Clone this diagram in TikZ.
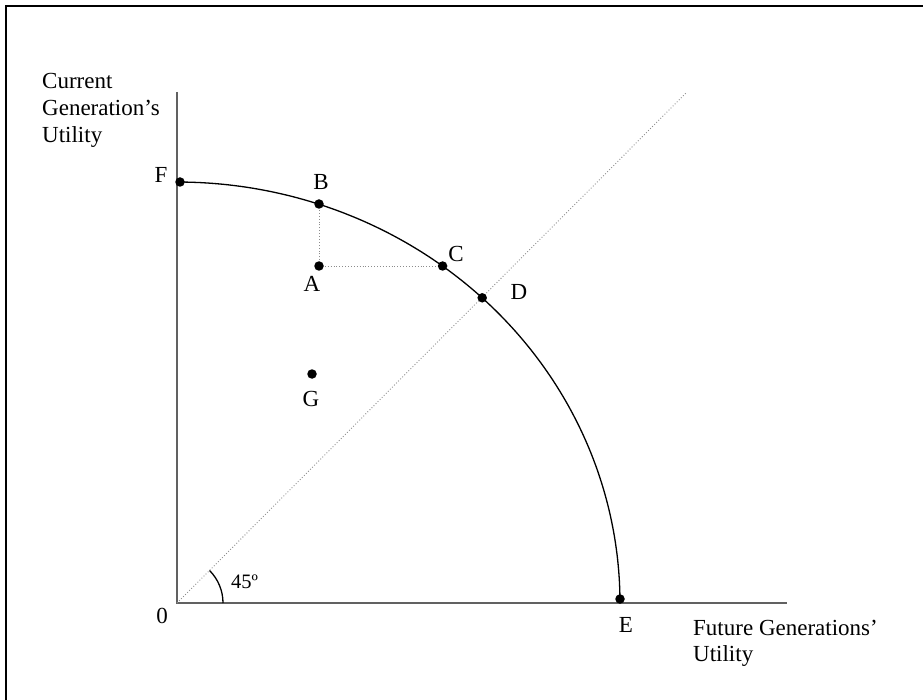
\documentclass[tikz,border=0pt]{standalone}
\usepackage{fontspec}
\setmainfont{Liberation Serif}
\begin{document}
\begin{tikzpicture}[x=1pt,y=-1pt,
  dot/.style={circle,fill=black,inner sep=0pt,minimum size=9.5pt},
  lbl/.style={anchor=base,inner sep=0pt,font=\fontsize{23}{28}\selectfont},
  ttl/.style={anchor=base west,inner sep=0pt,font=\fontsize{23}{28}\selectfont},
  axis/.style={draw=black!62,line width=1.6pt},
  guide/.style={draw=black!45,dotted,line width=0.9pt},
  curve/.style={draw=black,line width=1.3pt}]
\useasboundingbox (0,0) rectangle (923,700);
% frame (only top and left edges visible)
\draw[line width=2.3pt] (6,700) -- (6,6) -- (923,6);
% coordinates
\coordinate (O) at (177,603);
\coordinate (Ytop) at (177,92);
\coordinate (Xend) at (787,603);
\coordinate (Dend) at (686,93);
\coordinate (Bc) at (319,204);
\coordinate (Ac) at (319,266);
\coordinate (Cc) at (442.6,266);
% axes
\draw[axis] (Ytop) -- (O) -- (Xend);
% 45 degree line
\draw[guide] (O) -- (Dend);
% guides A-B, A-C
\draw[guide] (Ac) -- (Bc);
\draw[guide] (Ac) -- (Cc);
% frontier
\draw[curve] plot[domain=0:90,samples=120] ({177+443*cos(\x)},{603-421*sin(\x)});
% points
\node[dot] (F) at (180,182) {};
\node[dot] (B) at (Bc) {};
\node[dot] (A) at (Ac) {};
\node[dot] (C) at (Cc) {};
\node[dot] (D) at (482.2,297.8) {};
\node[dot] (G) at (312,374) {};
\node[dot] (E) at (620,599) {};
% angle arc
\draw[line width=1.3pt] ([shift={(0:46)}]O) arc[start angle=0,end angle=-45,radius=46];
\node[anchor=base west,inner sep=0pt,font=\fontsize{20.5}{24}\selectfont] (ang) at (231,588) {45º};
% point labels
\node[lbl] (lF) at (161,183) {F};
\node[lbl] (lB) at (321,190) {B};
\node[lbl] (lC) at (456,262) {C};
\node[lbl] (lA) at (312,292) {A};
\node[lbl] (lD) at (519,300) {D};
\node[lbl] (lG) at (311,406) {G};
\node[lbl] (lE) at (626,632) {E};
\node[lbl] (l0) at (162,623) {0};
% axis titles
\node[ttl] (ylab1) at (42,89) {Current};
\node[ttl] (ylab2) at (42,116) {Generation’s};
\node[ttl] (ylab3) at (42,143) {Utility};
\node[ttl] (xlab1) at (693,635) {Future Generations’};
\node[ttl] (xlab2) at (693,661) {Utility};
\end{tikzpicture}
\end{document}
